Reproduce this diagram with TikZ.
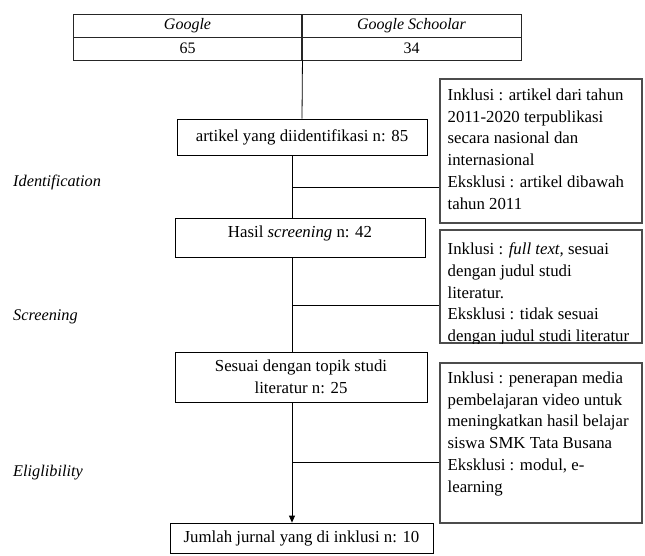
\documentclass[tikz,border=0pt]{standalone}
\usepackage{fontspec}
\setmainfont{Liberation Serif}
\usetikzlibrary{arrows.meta,calc}
\begin{document}
\begin{tikzpicture}[x=1pt,y=-1pt,
  box/.style={draw=black,line width=0.8pt,inner sep=0pt},
  note/.style={draw=black!70,line width=1.1pt,inner sep=0pt},
  txt/.style={font=\fontsize{16.8}{21.8}\selectfont,inner sep=0pt},
  cell/.style={draw=black!85,line width=0.9pt,minimum height=23pt,inner sep=0pt,font=\fontsize{16}{19}\selectfont},
  side/.style={anchor=west,inner sep=0pt,font=\fontsize{16.3}{19}\selectfont\itshape},
  link/.style={line width=0.8pt,draw=black}]
\useasboundingbox (0,0) rectangle (645,555);
% table
\node[cell,minimum width=229pt] (g1) at (187.5,25.5) {\itshape Google};
\node[cell,minimum width=220pt] (g2) at (411.5,25.5) {\itshape Google Schoolar};
\node[cell,minimum width=229pt] (c1) at (187.5,48.5) {65};
\node[cell,minimum width=220pt] (c2) at (411.5,48.5) {34};
% main boxes
\node[box,txt,minimum width=250pt,minimum height=36pt] (b1) at (302,137) {artikel yang diidentifikasi n: 85};
\node[box,minimum width=250pt,minimum height=39pt] (b2) at (300,237.5) {};
\node[txt,anchor=north] (t2) at ($(b2.north)+(0,8)$) {Hasil \textit{screening} n: 42};
\node[box,txt,align=center,minimum width=252pt,minimum height=50pt] (b3) at (301,377) {Sesuai dengan topik studi\\literatur n: 25};
\node[box,txt,minimum width=263pt,minimum height=30pt] (b4) at (301.5,538) {Jumlah jurnal yang di inklusi n: 10};
% notes
\node[note,minimum width=202pt,minimum height=144pt] (n1) at (541,151) {};
\node[txt,align=left,anchor=north west] (t1) at ($(n1.north west)+(8,10)$) {Inklusi : artikel dari tahun\\2011-2020 terpublikasi\\secara nasional dan\\internasional\\Eksklusi : artikel dibawah\\tahun 2011};
\node[note,minimum width=202pt,minimum height=113pt] (n2) at (541,286.5) {};
\begin{scope}
\clip (n2.north west) rectangle (n2.south east);
\node[txt,align=left,anchor=north west] (tn2) at ($(n2.north west)+(8,13)$) {Inklusi : \textit{full text,} sesuai\\dengan judul studi\\literatur.\\Eksklusi : tidak sesuai\\dengan judul studi literatur};
\end{scope}
\node[note,minimum width=202pt,minimum height=160pt] (n3) at (541,443) {};
\node[txt,align=left,anchor=north west] (t3) at ($(n3.north west)+(8,9)$) {Inklusi : penerapan media\\pembelajaran video untuk\\meningkatkan hasil belajar\\siswa SMK Tata Busana\\Eksklusi : modul, e-\\learning};
% side labels
\node[side] (l1) at (13,182) {Identification};
\node[side] (l2) at (13,317) {Screening};
\node[side] (l3) at (13,473) {Eliglibility};
% connectors
\coordinate (sp) at (292,0);
\coordinate (j1) at (292,187);
\coordinate (j2) at (292,305);
\coordinate (j3) at (292,462);
\draw[link] (c1.south east) -- (b1.north);
\draw[link] (b1.south -| sp) -- (b2.north -| sp);
\draw[link] (b2.south -| sp) -- (b3.north -| sp);
\draw[link,-{Triangle[length=7pt,width=6pt]}] (b3.south -| sp) -- (b4.north -| sp);
\draw[link] (j1) -- (j1 -| n1.west);
\draw[link] (j2) -- (j2 -| n2.west);
\draw[link] (j3) -- (j3 -| n3.west);
\end{tikzpicture}
\end{document}
